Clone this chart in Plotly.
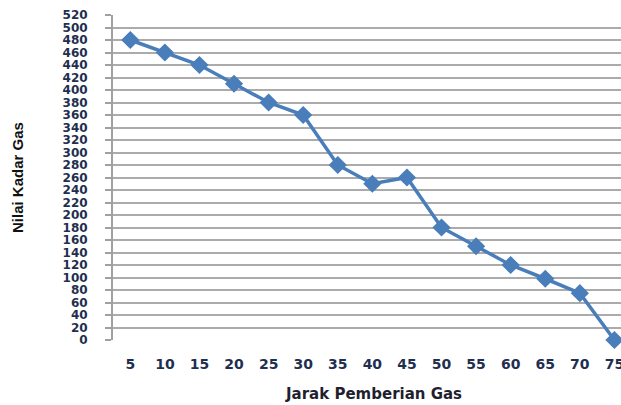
import plotly.graph_objects as go

jarak = ["5", "10", "15", "20", "25", "30", "35", "40", "45", "50", "55", "60", "65", "70", "75"]
kadar = [480, 460, 440, 410, 380, 360, 280, 250, 260, 180, 150, 120, 98, 75, 0]
y_ticks = list(range(0, 521, 20))

fig = go.Figure()
fig.add_trace(go.Scatter(
    x=list(range(len(jarak))), y=kadar, mode="lines+markers",
    line=dict(color="#4A7EBB", width=3.5),
    marker=dict(symbol="diamond", size=14, color="#4A7EBB"),
    cliponaxis=False, showlegend=False,
))

fig.update_layout(
    width=621, height=405,
    margin=dict(l=113, r=0, t=15, b=65),
    paper_bgcolor="white", plot_bgcolor="white",
    xaxis=dict(
        range=[-0.5, 14.19], automargin=False,
        tickmode="array", tickvals=list(range(len(jarak))), ticktext=jarak,
        showgrid=False, showline=False, zeroline=False, ticks="",
        tickfont=dict(family="DejaVu Sans", size=14, color="#1F2F4F", weight="bold"),
        ticklabelstandoff=14, ticklabeloverflow="allow",
    ),
    yaxis=dict(
        range=[0, 520], automargin=False,
        tickmode="array", tickvals=y_ticks, ticktext=[str(v) for v in y_ticks],
        showgrid=True, gridcolor="#ABABAB", gridwidth=1.5,
        showline=True, linecolor="#A0A0A0", linewidth=2,
        zeroline=False,
        ticks="outside", ticklen=6, tickcolor="#A0A0A0", tickwidth=1.5,
        tickfont=dict(family="DejaVu Sans", size=12, color="#1F2F4F", weight="bold"),
        ticklabelstandoff=15,
    ),
    annotations=[
        dict(text="Jarak Pemberian Gas", xref="paper", yref="paper",
             x=(373 - 113) / 508, y=-(394 - 340) / 325, showarrow=False,
             xanchor="center", yanchor="middle",
             font=dict(family="DejaVu Sans", size=15, color="#1F1F2F", weight="bold")),
        dict(text="Nilai Kadar Gas", xref="paper", yref="paper",
             x=-(113 - 18) / 508, y=(340 - 178) / 325, showarrow=False, textangle=-90,
             xanchor="center", yanchor="middle",
             font=dict(family="Liberation Sans Narrow, Arial Narrow, sans-serif", size=15,
                       color="#111111", weight="bold")),
    ],
)
fig.write_html(
    "out.html",
    config={"displayModeBar": False},
    post_script="document.body.style.margin='0';document.body.style.overflow='hidden';",
)
